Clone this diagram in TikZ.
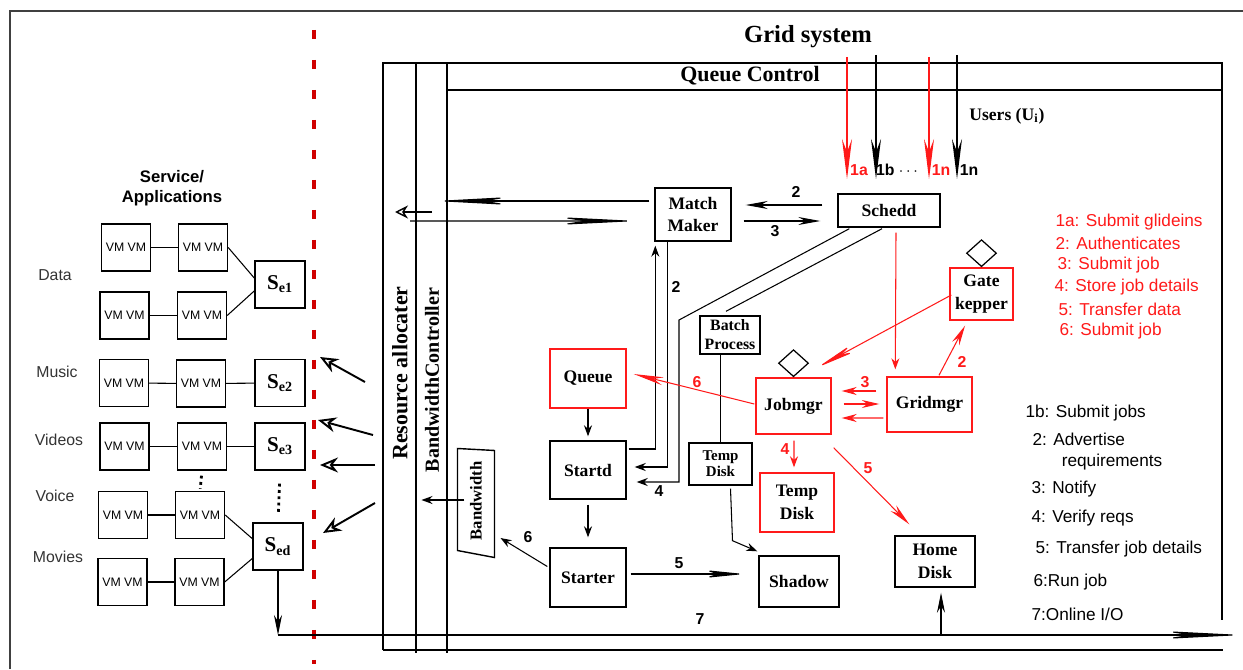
\documentclass[tikz,border=0pt]{standalone}
\usepackage{fontspec}
\setmainfont{Liberation Serif}
\setsansfont{Liberation Sans}
\usetikzlibrary{positioning,arrows.meta,calc,shapes.geometric}

\begin{document}
\begin{tikzpicture}[
  x=0.02cm, y=-0.02cm, line width=0.6pt,
  box/.style={
    draw, line width=0.8pt, align=center, inner sep=1pt,
    font=\bfseries\fontsize{10}{13}\selectfont},
  rbox/.style={box, draw=cRed},
  sz/.style 2 args={minimum width=#1*0.02cm, minimum height=#2*0.02cm},
  vm/.style={draw, line width=0.8pt, inner sep=0pt,
    minimum width=0.98cm, minimum height=0.94cm,
    font=\sffamily\fontsize{7}{8}\selectfont},
  sbox/.style={draw, line width=0.8pt, inner sep=0pt,
    minimum width=1cm, minimum height=0.94cm,
    font=\bfseries\fontsize{12}{12}\selectfont},
  dmd/.style={diamond, draw, line width=0.7pt, inner sep=0pt,
    minimum width=0.6cm, minimum height=0.54cm},
  lbl/.style={font=\sffamily\fontsize{9}{10}\selectfont, text=black!80},
  num/.style={font=\sffamily\bfseries\fontsize{9}{10}\selectfont, inner sep=1pt},
  key/.style={anchor=west, inner sep=0pt, align=left,
    font=\sffamily\fontsize{9.8}{12}\selectfont},
  arr/.style={-{Stealth[length=#1,width=1.6mm]}},
  arr/.default=2.2mm,
  oarr/.style={line width=1.1pt, -{Stealth[open,length=3.6mm,width=3mm]}},
  uarr/.style={line width=#1, -{Stealth[length=8mm,width=2mm]}},
  dots/.style={dotted, line width=1.6pt}
]

% ---- palette ----
\definecolor{cRed}{HTML}{FF1A1A}
\definecolor{cDash}{HTML}{D00000}

\useasboundingbox (0,0) rectangle (1243,669);

% ================= frame and system boxes =================
\draw[line width=1pt, black!75] (10,669) -- (10,11) -- (1243,11);
\draw[cDash, line width=2.2pt, dash pattern=on 0.18cm off 0.42cm] (314,30) -- (314,664);

\draw (383,650) -- (383,63) -- (1222,63) -- (1222,620);
\draw (383,650) -- (1223,650);
\draw (416,63) -- (416,653);
\draw (447,63) -- (447,653);
\draw (447,90) -- (1222,90);

\coordinate (bl) at (278,635);
\coordinate (br) at (1243,635);
\draw[arr=16mm] (bl) -- (br);

\node[font=\bfseries\fontsize{14}{16}\selectfont] (title) at (808,37) {Grid system};
\node[font=\bfseries\fontsize{12.5}{14}\selectfont] (qc) at (750,76) {Queue Control};
\node[rotate=90, font=\bfseries\fontsize{12.5}{14}\selectfont] (ra) at (400,373) {Resource allocater};
\node[rotate=90, font=\bfseries\fontsize{11.4}{13}\selectfont] (bc) at (432,380) {BandwidthController};

% ================= services / applications =================
\node[font=\sffamily\bfseries\fontsize{9.5}{11.5}\selectfont, align=center] (svc) at (172,188) {Service/\\Applications};

\node[lbl] (lData) at (55,275) {Data};
\node[lbl] (lMusic) at (57,372) {Music};
\node[lbl] (lVideo) at (59,440) {Videos};
\node[lbl] (lVoice) at (55,496) {Voice};
\node[lbl] (lMovie) at (58,557) {Movies};

\node[vm] (da1) at (126,247.5) {VM VM};
\node[vm] (da2) at (203,247.5) {VM VM};
\node[vm] (db1) at (124.5,315.5) {VM VM};
\node[vm] (db2) at (202,315.5) {VM VM};
\node[sbox] (se1) at (280,284.5) {S\textsubscript{e1}};

\node[vm] (mu1) at (124,383) {VM VM};
\node[vm] (mu2) at (201,383.5) {VM VM};
\node[sbox] (se2) at (280,383) {S\textsubscript{e2}};

\node[vm] (vi1) at (124.5,446.5) {VM VM};
\node[vm] (vi2) at (202,446.5) {VM VM};
\node[sbox] (se3) at (280,446.5) {S\textsubscript{e3}};

\node[vm] (vo1) at (123,515) {VM VM};
\node[vm] (vo2) at (200,515) {VM VM};
\node[vm] (mo1) at (122.5,582) {VM VM};
\node[vm] (mo2) at (199.5,582) {VM VM};
\node[sbox] (sed) at (278,546.5) {S\textsubscript{ed}};

\foreach \a/\b in {da1/da2, db1/db2, mu1/mu2, mu2/se2, vi1/vi2, vi2/se3, vo1/vo2, mo1/mo2} {\draw (\a) -- (\b);}
\draw (da2.east) -- (se1.166);
\draw (db2.east) -- (se1.194);
\draw (vo2.east) -- (sed.163);
\draw (mo2.east) -- (sed.205);
\draw[dots, shorten <=0.1cm, shorten >=0.04cm] (vi2.south) -- (vo2.north);
\draw[dots, shorten <=0.26cm, shorten >=0.16cm] (se3.south) -- (sed.north);
\draw[arr=4mm] (sed.south) -- (sed.south |- bl);

% resource allocater -> services
\foreach \xa/\ya/\xb/\yb in {365/382/320/357, 373/435/318/420, 375/465/320/465, 375/503/323/533}
  {\draw[oarr] (\xa,\ya) -- (\xb,\yb);}

% ================= queue control =================
\node[box, sz={76}{53}] (mm) at (693,214.5) {Match\\Maker};
\node[box, sz={102}{33}] (sched) at (889,210.5) {Schedd};
\node[rbox, sz={63}{52}] (gk) at (981.5,294) {Gate\\kepper};
\node[dmd, above=0pt of gk] (gkm) {};
\node[rbox, sz={85}{55}] (gm) at (929.5,404.5) {Gridmgr};
\node[rbox, sz={75}{56}] (jm) at (793.5,406) {Jobmgr};
\node[dmd, above=0pt of jm] (jmm) {};
\node[rbox, sz={74}{59}] (td2) at (797,502.5) {Temp\\Disk};
\node[box, sz={80}{51}] (hd) at (935,561.5) {Home\\Disk};
\node[box, sz={80}{51}] (sh) at (799,581.5) {Shadow};
\node[box, sz={76}{59}] (st) at (588,577.5) {Starter};
\node[box, sz={76}{58}] (sd) at (588,470) {Startd};
\node[rbox, sz={76}{59}] (qu) at (588,378.5) {Queue};
\node[box, sz={60}{38}, inner sep=0pt, font=\bfseries\fontsize{9}{10.8}\selectfont] (bp) at (730,335) {Batch\\Process};
\node[box, sz={63}{42}, font=\bfseries\fontsize{8.5}{9}\selectfont] (td1) at (720.5,464) {Temp\\Disk};
\node[minimum width=0.72cm, minimum height=2.08cm, inner sep=0pt,
  font=\bfseries\fontsize{9.5}{10}\selectfont] (bw) at (476,501) {\rotatebox{90}{Bandwidth}};
\draw[line width=0.8pt] (bw.north west) -- ($(bw.north east)+(0,2)$)
  -- ($(bw.south east)+(0,4)$) -- ($(bw.south west)+(0,-3)$) -- cycle;

% users
\node[anchor=west, font=\bfseries\fontsize{10}{12}\selectfont] (usr) at (963,116) {Users (U\textsubscript{i})};
\draw[uarr=0.7pt, draw=cRed] (847,57) -- (847,179);
\draw[uarr=1.1pt] (876,55) -- (876,179);
\draw[uarr=0.7pt, draw=cRed] (929,57) -- (929,179);
\draw[uarr=1.1pt] (957,55) -- (957,179);
\node[num, text=cRed] (u1a) at (859,170) {1a};
\node[num] (u1b) at (897,170) {1b $\cdots$};
\node[num, text=cRed] (u1n) at (941,170) {1n};
\node[num] (u1m) at (969,170) {1n};

% match maker <-> allocater / controller
\coordinate (bcIn) at (435,201);
\coordinate (bcOut) at (432,212);
\coordinate (raIn) at (395,212);
\coordinate (raOut) at (410,221);
\draw[arr=15mm] ($(mm.west)+(-5,-13.5)$) -- (bcIn);
\draw[line width=0.8pt, -{Stealth[open,length=2.6mm,width=2.6mm]}] (bcOut) -- (raIn);
\draw[arr=16mm] (raOut) -- ($(mm.west)+(-17,6.5)$);

% black flow
\draw[arr=4.4mm] ($(sched.west)+(-15,-5.5)$) -- ($(mm.east)+(14,-9.5)$);
\draw[arr=4.4mm] ($(mm.east)+(12,6.5)$) -- ($(sched.west)+(-17,10.5)$);
\draw[arr] ($(sd.east)+(2,-21)$) -| ($(mm.south west)+(1,4)$);
\draw[arr] ($(mm.south west)+(13,0)$) |- ($(sd.east)+(8,-3)$);
\draw[arr] ($(sched.south west)+(12,1)$) -- (679,320) |- ($(sd.east)+(10,12)$);
\draw ($(sched.south)+(-7,1)$) -- ($(bp.north)+(-4,-4)$);
\draw (bp.south -| td1.north) -- (td1.north);
\draw[arr] ($(td1.south)+(10,3)$) -- ++(2,52) -- ($(sh.north west)+(-1,-4)$);
\draw[arr] (qu.south) -- ($(sd.north)+(0,-4)$);
\draw[arr] ($(sd.south)+(0,5)$) -- ($(st.north)+(0,-10)$);
\draw[arr] ($(st.west)+(-2,-11)$) -- ($(bw.east)+(6,37)$);
\draw[arr=8mm] ($(st.east)+(4,-3.5)$) -- ($(sh.west)+(-14,-7.5)$);
\draw[arr] ($(bw.west)+(7,-1)$) -- ($(bw.west)+(-36,-1)$);
\draw ($(bw.south)+(2,3)$) -- ($(bw.south)+(2,3)$ |- bl);
\draw[arr=4mm, shorten >=0.1cm] ($(hd.south)+(6,48)$) -- ($(hd.south)+(6,0)$);

% red flow
\draw[cRed, arr] ($(sched.south)+(7,5)$) -- ($(gm.north west)+(9,-7)$);
\draw[cRed, arr=8mm] ($(gk.west)+(2,1)$) -- ($(jm.north east)+(-14,-10)$);
\draw[cRed, arr=4mm] ($(gm.north)+(9.5,-1)$) -- ($(gk.south)+(-16.5,5)$);
\draw[cRed, arr=3mm] ($(gm.west)+(-10,-13.5)$) -- ($(jm.east)+(10,-15)$);
\draw[cRed, arr=3.5mm] ($(jm.east)+(12,-2)$) -- ($(gm.west)+(-7,-0.5)$);
\draw[cRed, arr=3mm] ($(gm.west)+(-3,13.5)$) -- ($(jm.east)+(10,12)$);
\draw[cRed, arr=6mm] ($(jm.west)+(-1,-2)$) -- ($(qu.east)+(7,-4.5)$);
\draw[cRed, arr] ($(jm.south)+(0.5,6)$) -- ($(td2.north)+(-3,-5)$);
\draw[cRed, arr=4.5mm] ($(jm.south east)+(2,13)$) -- ($(hd.north west)+(15,-11)$);

% ================= connector numbers =================
\node[num] (n2a) at (796,192) {2};
\node[num] (n3a) at (775,231) {3};
\node[num] (n2b) at (676,287) {2};
\node[num] (n4a) at (659,491) {4};
\node[num] (n6a) at (528,537) {6};
\node[num] (n5a) at (679,563) {5};
\node[num] (n7a) at (700,619) {7};
\node[num, text=cRed] (r6) at (697,382) {6};
\node[num, text=cRed] (r3) at (865,382) {3};
\node[num, text=cRed] (r2) at (962,362) {2};
\node[num, text=cRed] (r4) at (785,449) {4};
\node[num, text=cRed] (r5) at (868,468) {5};

% ================= keys =================
\node[key, text=cRed] (k1a) at (1055,222) {1a: Submit glideins};
\node[key, text=cRed] (k2r) at (1055,243) {2: Authenticates};
\node[key, text=cRed] (k3r) at (1057,265) {3: Submit job};
\node[key, text=cRed] (k4r) at (1054,287) {4: Store job details};
\node[key, text=cRed] (k5r) at (1058,309) {5: Transfer data};
\node[key, text=cRed] (k6r) at (1059,331) {6: Submit job};

\node[key] (k1b) at (1025,413) {1b: Submit jobs};
\node[key] (k2b) at (1032,452) {2: Advertise\\\hspace*{1.7em}requirements};
\node[key] (k3b) at (1031,489) {3: Notify};
\node[key] (k4b) at (1031,518) {4: Verify reqs};
\node[key] (k5b) at (1035,549) {5: Transfer job details};
\node[key] (k6b) at (1033,582) {6:Run job};
\node[key] (k7b) at (1031,614) {7:Online I/O};

\end{tikzpicture}
\end{document}
